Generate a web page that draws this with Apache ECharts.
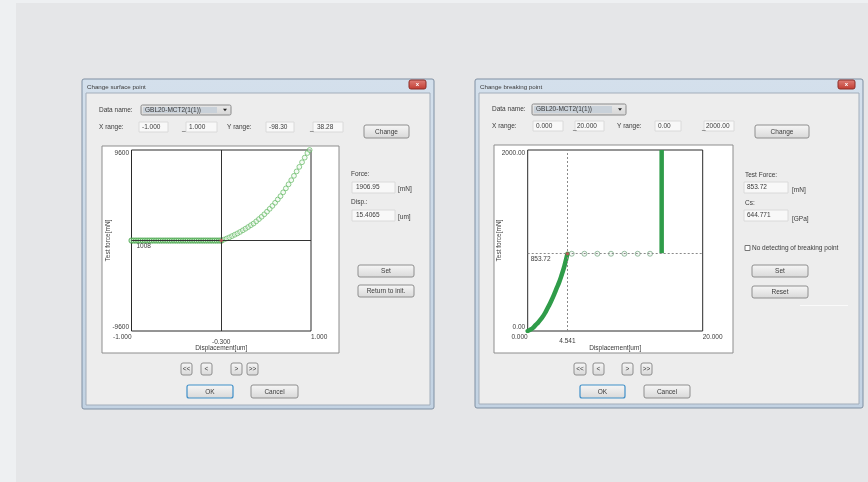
<!DOCTYPE html>
<html><head><meta charset="utf-8">
<script src="https://cdn.jsdelivr.net/npm/echarts@6/dist/echarts.min.js"></script>
<style>html,body{margin:0;padding:0;background:#eef0f2}#c{width:868px;height:482px}</style>
</head><body><div id="c"></div>
<script>
// ---------- data: left chart "Change surface point" ----------
const leftFlatX = [-1.000,-0.975,-0.950,-0.925,-0.900,-0.875,-0.850,-0.825,-0.800,-0.775,-0.750,-0.725,-0.700,-0.675,-0.650,-0.625,-0.600,-0.575,-0.550,-0.525,-0.500,-0.475,-0.450,-0.425,-0.400,-0.375,-0.350,-0.325,-0.300,-0.275,-0.250,-0.225,-0.200,-0.175,-0.150,-0.125,-0.100,-0.075,-0.050,-0.025,0.000];
const leftFlatY = [0,0,0,0,0,0,0,0,0,0,0,0,0,0,0,0,0,0,0,0,0,0,0,0,0,0,0,0,0,0,0,0,0,0,0,0,0,0,0,0,0];
const leftCurveX = [0.00,0.03,0.06,0.09,0.12,0.15,0.18,0.21,0.24,0.27,0.30,0.33,0.36,0.39,0.42,0.45,0.48,0.51,0.54,0.57,0.60,0.63,0.66,0.69,0.72,0.75,0.78,0.81,0.84,0.87,0.90,0.93,0.96,0.985];
const leftCurveY = [0,100,210,330,470,610,750,910,1080,1250,1430,1620,1800,2030,2270,2520,2780,3060,3360,3670,4000,4350,4700,5110,5530,5960,6400,6860,7330,7810,8300,8790,9280,9600];
const leftCursor = [0, 0];
const leftCursorLabels = ['-0.300', '1008'];
const leftXTickValues = [-1, 1];
const leftXTickLabels = ['-1.000', '1.000'];
const leftYTickValues = [-9600, 9600];
const leftYTickLabels = ['-9600', '9600'];

// ---------- data: right chart "Change breaking point" ----------
const rightCurveX = [0.00,0.30,0.60,0.90,1.20,1.50,1.80,2.10,2.40,2.70,3.00,3.30,3.60,3.90,4.20,4.541];
const rightCurveY = [0,15,35,65,95,130,170,220,275,335,400,470,540,625,720,853.72];
const rightPlateauX = [5.03,6.48,7.96,9.52,11.05,12.57,13.98];
const rightPlateauY = [853.72,853.72,853.72,853.72,853.72,853.72,853.72];
const rightBreakX = [15.31,15.31,15.31,15.31,15.31];
const rightBreakY = [860,1150,1450,1750,2000];
const rightCursor = [4.541, 853.72];
const rightCursorLabels = ['4.541', '853.72'];
const rightXTickValues = [0, 20];
const rightXTickLabels = ['0.000', '20.000'];
const rightYTickValues = [0, 2000];
const rightYTickLabels = ['0.00', '2000.00'];

const zip = (xs, ys) => xs.map((x, i) => [x, ys[i]]);
const FONT = "'Liberation Sans', Arial, sans-serif";
const FS = 6.5;
const TXT = '#3a3a3a';

function tickFmt(vals, labels) {
  return function (v) {
    for (let i = 0; i < vals.length; i++) if (Math.abs(v - vals[i]) < 1e-9) return labels[i];
    return '';
  };
}

// ---------- chrome helpers ----------
const G = [];
function text(x, y, t, o) {
  o = o || {};
  G.push({type: 'text', z: o.z || -10, x: x, y: y, silent: true,
    style: {text: t, fill: o.fill || TXT, fontSize: o.fs || FS, fontFamily: FONT,
      fontWeight: o.fw || 'normal',
      textAlign: o.align || 'left', textVerticalAlign: 'middle'}});
}
function rect(x, y, w, h, fill, stroke, o) {
  o = o || {};
  G.push({type: 'rect', z: o.z || -14, silent: true,
    shape: {x: x, y: y, width: w, height: h, r: o.r || 0},
    style: {fill: fill, stroke: stroke || null, lineWidth: o.lw || 1}});
}
function vgrad(a, b) {
  return {type: 'linear', x: 0, y: 0, x2: 0, y2: 1, colorStops: [{offset: 0, color: a}, {offset: 1, color: b}]};
}
function button(x, y, w, h, t, focus) {
  rect(x, y, w, h, vgrad('#f7f7f7', '#d8d8d8'), focus ? '#3f8fc8' : '#8e8e8e', {r: 2, z: -13, lw: focus ? 1.2 : 1});
  text(x + w / 2, y + h / 2 + 0.5, t, {align: 'center'});
}
function field(x, y, w, h, t, tx) {
  rect(x, y, w, h, '#f8f8f8', '#dadada', {z: -13});
  text(tx !== undefined ? tx : x + 3, y + h / 2, t);
}
function dropdown(x, y, w, h, t) {
  rect(x, y, w, h, vgrad('#e9e9e9', '#d6d6d6'), '#8a8a8a', {z: -13, r: 1.5});
  rect(x + 2, y + 2, w - 16, h - 4, '#c9d1d9', null, {z: -12});
  text(x + 4, y + h / 2, t);
  G.push({type: 'polygon', z: -10, silent: true,
    shape: {points: [[x + w - 8, y + h / 2 - 1.2], [x + w - 4, y + h / 2 - 1.2], [x + w - 6, y + h / 2 + 1.3]]},
    style: {fill: '#222'}});
}
function dialog(x, y, w, h, title) {
  rect(x, y, w, h, vgrad('#d4e0ec', '#c3d3e3'), '#7f8fa2', {z: -25, r: 2});
  rect(x + 4, y + 14, w - 8, h - 18, '#ededed', '#a3aebb', {z: -24});
  text(x + 5, y + 8, title, {fs: 6.2});
  rect(x + w - 25, y + 1, 17, 9, vgrad('#e0837c', '#c0392f'), '#8d2f29', {z: -20, r: 2});
  text(x + w - 16.5, y + 5.5, 'x', {fill: '#ffffff', align: 'center', fw: 'bold', fs: 6});
}

// page background
rect(16, 3, 852, 479, '#e5e6e8', null, {z: -30});

// ----- left dialog -----
dialog(82, 79, 352, 330, 'Change surface point');
text(99, 110, 'Data name:');
dropdown(141, 105, 90, 10, 'GBL20-MCT2(1(1))');
text(99, 127, 'X range:');
field(139, 122, 29, 10, '-1.000', 142);
text(182, 128.5, '_');
field(186, 122, 31, 10, '1.000', 189);
text(227, 127, 'Y range:');
field(266, 122, 28, 10, '-98.30', 269);
text(310, 128.5, '_');
field(313, 122, 30, 10, '38.28', 317);
button(364, 125, 45, 13, 'Change');
rect(102, 146, 237, 207, '#ffffff', '#8d8d8d', {z: -20});
text(351, 174, 'Force:');
field(352, 182, 43, 11, '1906.95', 356);
text(398, 189, '[mN]');
text(351, 202, 'Disp.:');
field(352, 210, 43, 11, '15.4065', 356);
text(398, 217, '[um]');
button(358, 265, 56, 12, 'Set');
button(358, 285, 56, 12, 'Return to init.');
button(181, 363, 11, 12, '<<');
button(201, 363, 11, 12, '<');
button(231, 363, 11, 12, '>');
button(247, 363, 11, 12, '>>');
button(187, 385, 46, 13, 'OK', true);
button(251, 385, 47, 13, 'Cancel');

// ----- right dialog -----
dialog(475, 79, 388, 329, 'Change breaking point');
text(492, 109, 'Data name:');
dropdown(532, 104, 94, 11, 'GBL20-MCT2(1(1))');
text(492, 126, 'X range:');
field(533, 121, 30, 10, '0.000', 536);
text(573, 127.5, '_');
field(575, 121, 29, 10, '20.000', 577);
text(617, 126, 'Y range:');
field(655, 121, 26, 10, '0.00', 658);
text(702, 127.5, '_');
field(704, 121, 30, 10, '2000.00', 706);
button(755, 125, 54, 13, 'Change');
rect(494, 145, 239, 208, '#ffffff', '#8d8d8d', {z: -20});
text(745, 175, 'Test Force:');
field(744, 182, 44, 11, '853.72', 747);
text(792, 190, '[mN]');
text(745, 203, 'Cs:');
field(744, 210, 44, 11, '644.771', 747);
text(792, 219, '[GPa]');
rect(745, 245.5, 5, 5, '#ffffff', '#777777', {z: -12});
text(752, 248, 'No detecting of breaking point');
button(752, 265, 56, 12, 'Set');
button(752, 286, 56, 12, 'Reset');
rect(800, 305, 48, 1, '#fafafa', null, {z: -13});
button(574, 363, 12, 12, '<<');
button(593, 363, 11, 12, '<');
button(622, 363, 11, 12, '>');
button(641, 363, 11, 12, '>>');
button(580, 385, 45, 13, 'OK', true);
button(644, 385, 46, 13, 'Cancel');

// ---------- chart ----------
const chart = echarts.init(document.getElementById('c'), null, {renderer: 'canvas'});
const axisText = {fontSize: FS, color: TXT, fontFamily: FONT};

function xAxisOpt(idx, min, max, interval, vals, labels, name) {
  return {type: 'value', gridIndex: idx, min: min, max: max, interval: interval,
    axisLine: {show: false}, axisTick: {show: false}, splitLine: {show: false},
    axisLabel: Object.assign({margin: 2.5, formatter: tickFmt(vals, labels), showMinLabel: true, showMaxLabel: true,
      alignMinLabel: 'right', alignMaxLabel: 'left'}, axisText),
    name: name, nameLocation: 'middle', nameGap: 13.5, nameMoveOverlap: false, nameTextStyle: axisText};
}
function yAxisOpt(idx, min, max, interval, vals, labels, name, gap) {
  return {type: 'value', gridIndex: idx, min: min, max: max, interval: interval,
    axisLine: {show: false}, axisTick: {show: false}, splitLine: {show: false},
    axisLabel: Object.assign({margin: 2.5, formatter: tickFmt(vals, labels), showMinLabel: true, showMaxLabel: true,
      verticalAlignMinLabel: 'bottom', verticalAlignMaxLabel: 'top'}, axisText),
    name: name, nameLocation: 'middle', nameRotate: 90, nameGap: gap, nameMoveOverlap: false, nameTextStyle: axisText};
}

const hollowGreen = {color: 'rgba(235,246,235,0.6)', borderColor: '#62b862', borderWidth: 0.9};
const flatGreen = {color: 'rgba(200,232,200,0.7)', borderColor: '#4aa84e', borderWidth: 1.1};
const mlLabel = Object.assign({}, axisText);

chart.setOption({
  animation: false,
  backgroundColor: 'transparent',
  graphic: {elements: G},
  grid: [
    {left: 131.5, top: 150, width: 179.5, height: 181, show: true, backgroundColor: '#ffffff', borderColor: '#2a2a2a', borderWidth: 1, containLabel: false},
    {left: 527.7, top: 150, width: 175, height: 181, show: true, backgroundColor: '#ffffff', borderColor: '#2a2a2a', borderWidth: 1, containLabel: false}
  ],
  xAxis: [
    xAxisOpt(0, -1, 1, 1, leftXTickValues, leftXTickLabels, 'Displacement[um]'),
    xAxisOpt(1, 0, 20, 20, rightXTickValues, rightXTickLabels, 'Displacement[um]')
  ],
  yAxis: [
    yAxisOpt(0, -9600, 9600, 9600, leftYTickValues, leftYTickLabels, 'Test force[mN]', 20),
    yAxisOpt(1, 0, 2000, 2000, rightYTickValues, rightYTickLabels, 'Test force[mN]', 25)
  ],
  series: [
    {type: 'scatter', xAxisIndex: 0, yAxisIndex: 0, data: zip(leftFlatX, leftFlatY), symbolSize: 5, itemStyle: flatGreen, silent: true,
      markLine: {symbol: 'none', silent: true, animation: false,
        lineStyle: {color: '#333333', width: 1, type: 'solid'},
        label: mlLabel,
        data: [
          {xAxis: leftCursor[0], label: Object.assign({formatter: leftCursorLabels[0], position: 'start', distance: 8}, mlLabel)},
          {yAxis: leftCursor[1], label: Object.assign({formatter: leftCursorLabels[1], position: 'insideStartBottom', distance: 2, padding: [0, 0, 0, 3]}, mlLabel)}
        ]}},
    {type: 'scatter', xAxisIndex: 0, yAxisIndex: 0, data: zip(leftCurveX, leftCurveY), symbolSize: 4.8, itemStyle: hollowGreen, silent: true},
    {type: 'scatter', xAxisIndex: 0, yAxisIndex: 0, data: [leftCursor], symbolSize: 3.5, itemStyle: {color: '#c0504d'}, silent: true, z: 5},

    {type: 'line', xAxisIndex: 1, yAxisIndex: 1, data: zip(rightCurveX, rightCurveY), showSymbol: false, symbol: 'none', smooth: true,
      lineStyle: {color: '#2f9c49', width: 4.5, cap: 'round'}, silent: true,
      markLine: {symbol: 'none', silent: true, animation: false,
        lineStyle: {color: '#8a8a8a', width: 1, type: [2, 2]},
        data: [
          {xAxis: rightCursor[0], label: Object.assign({formatter: rightCursorLabels[0], position: 'start', distance: 7}, mlLabel)},
          {yAxis: rightCursor[1], label: Object.assign({formatter: rightCursorLabels[1], position: 'insideStartBottom', distance: 2, padding: [0, 0, 0, 1]}, mlLabel)}
        ]}},
    {type: 'scatter', xAxisIndex: 1, yAxisIndex: 1, data: zip(rightPlateauX, rightPlateauY), symbolSize: 5,
      itemStyle: {color: 'rgba(240,245,240,0.8)', borderColor: '#7fae8c', borderWidth: 1}, silent: true},
    {type: 'line', xAxisIndex: 1, yAxisIndex: 1, data: zip(rightBreakX, rightBreakY), showSymbol: false, symbol: 'none',
      lineStyle: {color: '#2f9c49', width: 4.5}, silent: true},
    {type: 'scatter', xAxisIndex: 1, yAxisIndex: 1, data: [rightCursor], symbolSize: 3.5, itemStyle: {color: '#c0504d'}, silent: true, z: 5}
  ]
});
</script>
</body></html>
